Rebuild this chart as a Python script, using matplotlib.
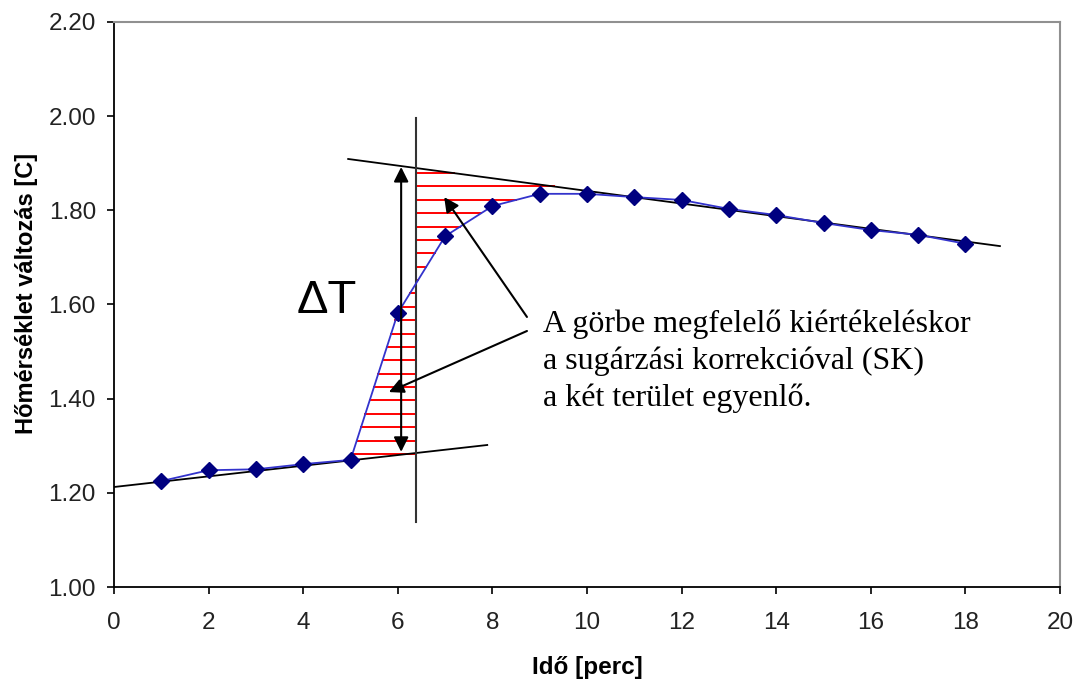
import numpy as np
import matplotlib
matplotlib.use('Agg')
import matplotlib.pyplot as plt

# mért pontok
ido = [1, 2, 3, 4, 5, 6, 7, 8, 9, 10, 11, 12, 13, 14, 15, 16, 17, 18]
homerseklet = [1.225, 1.248, 1.250, 1.261, 1.270, 1.582, 1.745, 1.809, 1.835,
               1.835, 1.828, 1.822, 1.803, 1.790, 1.773, 1.758, 1.748, 1.729]

# előperiódus és utóperiódus egyenesei (végpontok)
elo_x = [0.0, 7.89]
elo_y = [1.2124, 1.3016]
uto_x = [4.95, 18.73]
uto_y = [1.909, 1.724]

# függőleges vonal (korrekciós időpont)
t_korr = 6.385
fugg_y = [1.138, 1.996]
dT_x = 6.07

plt.rcParams['font.family'] = ['Liberation Sans', 'DejaVu Sans']

fig = plt.figure(figsize=(10.78, 6.86), dpi=100)
ax = fig.add_axes([0.1058, 0.1443, 0.8775, 0.8237])

ax.set_xlim(0, 20)
ax.set_ylim(1.0, 2.2)

# sraffozás a két terület között
def lin(x0, y0, x1, y1, y):
    return x0 + (y - y0) * (x1 - x0) / (y1 - y0)

ido_a = np.array(ido, dtype=float)
hom_a = np.array(homerseklet)
y_vonal = np.interp(t_korr, ido_a, hom_a)

szintek = np.linspace(1.2825, 1.879, 22)
for h in szintek:
    if h < y_vonal:
        # alsó terület: görbe és függőleges vonal között
        x_bal = np.interp(h, hom_a[3:7], ido_a[3:7])
        ax.plot([x_bal, t_korr], [h, h], color='#ff0000', lw=1.4, zorder=1)
    else:
        # felső terület: függőleges vonal és görbe között
        x_gorbe = np.interp(h, hom_a[5:9], ido_a[5:9]) if h <= hom_a[8] else 99
        x_jobb = min(x_gorbe, lin(uto_x[0], uto_y[0], uto_x[1], uto_y[1], h))
        ax.plot([t_korr, x_jobb], [h, h], color='#ff0000', lw=1.4, zorder=1)

ax.plot(elo_x, elo_y, color='black', lw=1.3, zorder=2)
ax.plot(uto_x, uto_y, color='black', lw=1.3, zorder=2)
ax.plot([t_korr, t_korr], fugg_y, color='#333333', lw=1.5, zorder=2)

ax.plot(ido, homerseklet, color='#3333cc', lw=1.3, marker='D', ms=8,
        mfc='#000080', mec='#000080', zorder=3)

# ΔT nyíl
ax.annotate('', xy=(dT_x, 1.892), xytext=(dT_x, 1.287),
            arrowprops=dict(arrowstyle='<|-|>', color='black', lw=1.5,
                            mutation_scale=22, shrinkA=0, shrinkB=0))
ax.text(3.87, 1.582, 'ΔT', fontsize=34, va='baseline', ha='left')

# magyarázó nyilak
ax.annotate('', xy=(6.98, 1.828), xytext=(8.73, 1.5735),
            arrowprops=dict(arrowstyle='-|>', color='black', lw=1.5,
                            mutation_scale=22, shrinkA=0, shrinkB=0))
ax.annotate('', xy=(5.81, 1.414), xytext=(8.73, 1.5437),
            arrowprops=dict(arrowstyle='-|>', color='black', lw=1.5,
                            mutation_scale=22, shrinkA=0, shrinkB=0))

sorok = ['A görbe megfelelő kiértékeléskor',
         'a sugárzási korrekcióval (SK)',
         'a két terület egyenlő.']
for i, s in enumerate(sorok):
    ax.text(9.07, 1.5416 - i * 0.0786, s, fontsize=23, va='baseline',
            ha='left', family=['Liberation Serif', 'DejaVu Serif'])

ax.set_xticks(range(0, 21, 2))
ax.set_yticks(np.arange(1.0, 2.21, 0.2))
ax.yaxis.set_major_formatter(matplotlib.ticker.FormatStrFormatter('%.2f'))
ax.tick_params(axis='both', labelsize=17.5, length=5, width=1.2,
               color='black', labelcolor='#222222')
ax.tick_params(axis='x', pad=13)
ax.tick_params(axis='y', pad=8)

for s in ['left', 'bottom']:
    ax.spines[s].set_color('black')
    ax.spines[s].set_linewidth(1.3)
for s in ['top', 'right']:
    ax.spines[s].set_color('#909090')
    ax.spines[s].set_linewidth(1.5)

ax.set_xlabel('Idő [perc]', fontsize=17.5, fontweight='bold', labelpad=16)
ax.set_ylabel('Hőmérséklet változás [C]', fontsize=17, fontweight='bold')
ax.yaxis.set_label_coords(-0.08, 0.52)

fig.savefig('out.png', dpi=100)
